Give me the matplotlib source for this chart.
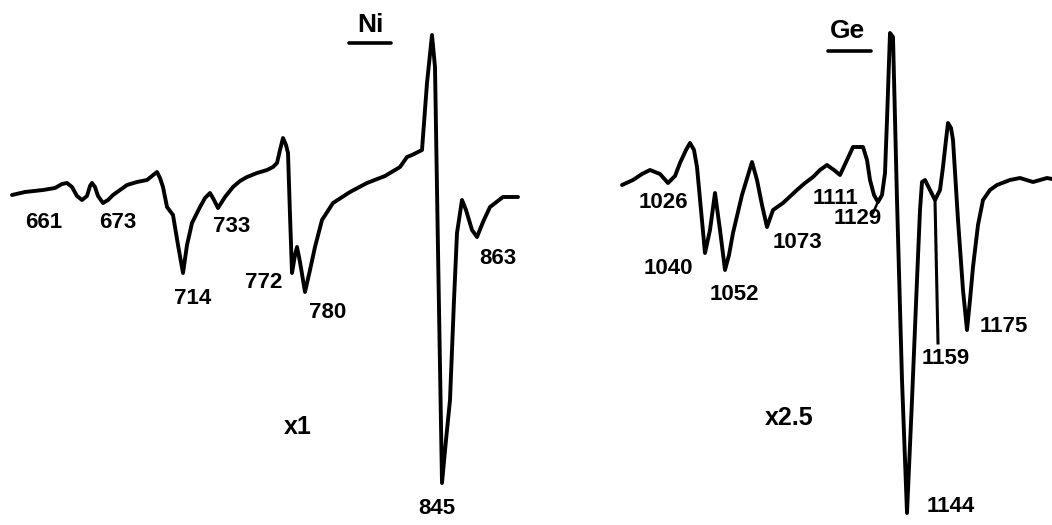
import matplotlib
matplotlib.use('Agg')
import matplotlib.pyplot as plt

# Traced spectra (horizontal position, signal position), page units
ni_x = [12, 25, 43, 55, 62, 67, 72, 77, 82, 87, 90, 92, 95, 98, 103, 108, 113, 120, 127, 137, 147,
        152, 157, 160, 163, 167, 173, 178, 183, 187, 192, 200, 205, 210, 214, 218, 225, 233, 240,
        247, 257, 267, 273, 277, 280, 283, 286, 288, 290, 292, 295, 297, 300, 305, 310, 315, 322,
        333, 350, 367, 385, 400, 407, 412, 422, 427, 432, 435, 438, 442, 446, 450, 454, 457, 462,
        466, 472, 477, 483, 490, 503, 518]
ni_y = [195, 192, 190, 188, 184, 183, 187, 196, 200, 196, 186, 183, 187, 196, 203, 200, 195, 190,
        185, 182, 180, 176, 172, 178, 187, 207, 215, 245, 273, 245, 223, 207, 198, 193, 200, 208,
        197, 187, 181, 177, 173, 170, 167, 163, 150, 138, 145, 153, 215, 273, 255, 247, 262, 292,
        270, 247, 220, 203, 192, 183, 176, 167, 157, 155, 150, 83, 35, 67, 250, 483, 440, 400, 300,
        233, 200, 210, 230, 237, 222, 207, 197, 197]

ge_x = [622, 633, 642, 650, 660, 668, 675, 680, 686, 690, 694, 697, 701, 705, 710, 715, 720, 725,
        729, 733, 742, 752, 757, 762, 767, 773, 783, 797, 805, 813, 820, 827, 834, 840, 847, 853,
        863, 867, 870, 874, 878, 882, 885, 887, 890, 893, 897, 902, 907, 912, 917, 920, 922, 925,
        930, 935, 940, 943, 946, 948, 951, 953, 958, 963, 967, 970, 973, 978, 983, 990, 997,
        1010, 1020, 1033, 1047, 1052]
ge_y = [185, 180, 174, 170, 174, 183, 176, 163, 150, 143, 150, 167, 210, 253, 230, 193, 230, 270,
        255, 233, 195, 162, 180, 205, 227, 210, 203, 190, 183, 177, 170, 165, 170, 175, 160, 147,
        147, 160, 180, 195, 202, 195, 173, 120, 33, 37, 200, 380, 513, 400, 280, 210, 182, 180,
        190, 200, 190, 167, 140, 123, 128, 140, 220, 290, 330, 300, 267, 225, 200, 190, 185,
        180, 178, 182, 178, 179]

# Peak labels (energy, label position)
ni_labels = ['661', '673', '714', '733', '772', '780', '845', '863']
ni_lab_x = [44, 118, 193, 232, 264, 328, 437, 498]
ni_lab_y = [222, 222, 298, 226, 283, 313, 508, 258]

ge_labels = ['1026', '1040', '1052', '1073', '1111', '1129', '1144', '1159', '1175']
ge_lab_x = [663, 668, 734, 797, 836, 858, 951, 946, 1004]
ge_lab_y = [203, 268, 294, 242, 198, 219, 507, 358, 326]

fig = plt.figure(figsize=(10.52, 5.25), dpi=100)
ax = fig.add_axes([0, 0, 1, 1])
ax.set_xlim(0, 1052)
ax.set_ylim(525, 0)
ax.axis('off')

lw = 2.8
ax.plot(ni_x, ni_y, color='black', lw=lw, solid_joinstyle='round', solid_capstyle='round')
ax.plot(ge_x, ge_y, color='black', lw=lw, solid_joinstyle='round', solid_capstyle='round')

font = dict(family='Liberation Sans', fontweight='bold', color='black',
            ha='center', va='center')
fs = 16
for t, x, y in zip(ni_labels, ni_lab_x, ni_lab_y):
    ax.text(x, y, t, fontsize=fs, **font)
for t, x, y in zip(ge_labels, ge_lab_x, ge_lab_y):
    ax.text(x, y, t, fontsize=fs, **font)

# leader marks for 1129 and 1159
ax.plot([873, 877], [213, 204], color='black', lw=1.8)
ax.plot([935, 938], [200, 343], color='black', lw=2.2)

# element titles, underlined
ax.text(370, 25, 'Ni', fontsize=19, **font)
ax.plot([349, 391], [43, 43], color='black', lw=2.6, solid_capstyle='round')
ax.text(847, 31, 'Ge', fontsize=19, **font)
ax.plot([828, 871], [51, 51], color='black', lw=2.6, solid_capstyle='round')

# gain factors
ax.text(298, 427, 'x1', fontsize=18, **font)
ax.text(789, 418, 'x2.5', fontsize=18, **font)

fig.savefig('out.png', dpi=100, facecolor='white')
